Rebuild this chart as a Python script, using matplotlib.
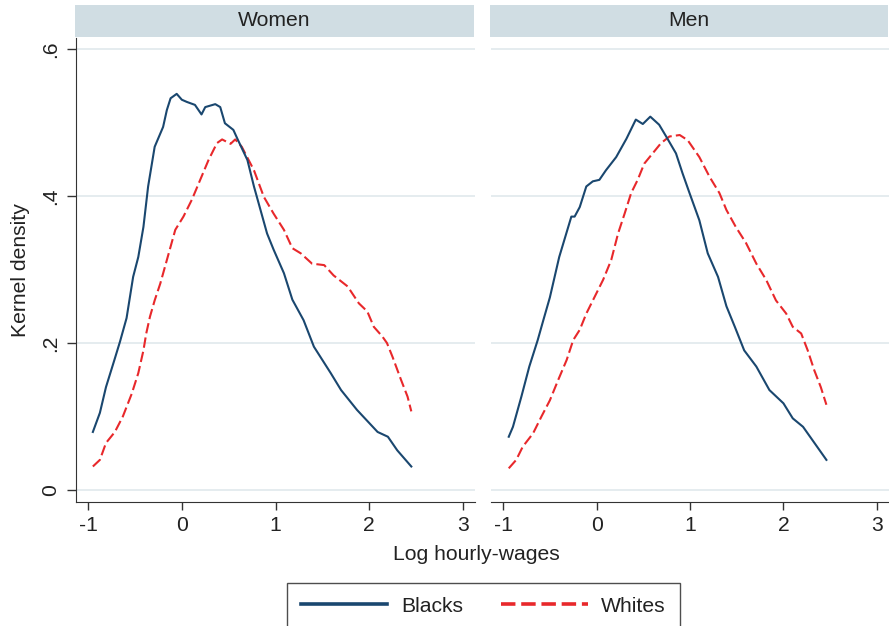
import matplotlib
matplotlib.use("Agg")
import matplotlib.pyplot as plt
from matplotlib.lines import Line2D

plt.rcParams["font.family"] = ["Liberation Sans", "DejaVu Sans"]

panels = ["Women", "Men"]
groups = ["Blacks", "Whites"]
yticks = [0, 0.2, 0.4, 0.6]
ytick_labels = ["0", ".2", ".4", ".6"]
xticks = [-1, 0, 1, 2, 3]

# Women, Blacks
wb_x = [-0.95, -0.875, -0.81, -0.72, -0.66, -0.59, -0.52, -0.465, -0.41, -0.36, -0.29, -0.2, -0.16,
        -0.12, -0.055, 0.0, 0.054, 0.14, 0.21, 0.25, 0.357, 0.41, 0.46, 0.55, 0.6, 0.70, 0.77, 0.84,
        0.91, 0.98, 1.09, 1.18, 1.30, 1.41, 1.59, 1.70, 1.87, 2.09, 2.20, 2.30, 2.45]
wb_y = [0.079, 0.105, 0.14, 0.177, 0.202, 0.234, 0.29, 0.317, 0.358, 0.413, 0.467, 0.494, 0.517,
        0.533, 0.539, 0.531, 0.528, 0.524, 0.511, 0.521, 0.525, 0.521, 0.499, 0.49, 0.476, 0.449,
        0.413, 0.381, 0.349, 0.327, 0.295, 0.259, 0.231, 0.195, 0.159, 0.136, 0.109, 0.079, 0.0725,
        0.054, 0.032]

# Women, Whites
ww_x = [-0.95, -0.875, -0.81, -0.715, -0.63, -0.535, -0.465, -0.41, -0.38, -0.34, -0.29, -0.23,
        -0.14, -0.07, 0.017, 0.107, 0.196, 0.285, 0.375, 0.43, 0.52, 0.57, 0.64, 0.77, 0.875, 0.98,
        1.09, 1.18, 1.27, 1.39, 1.52, 1.62, 1.77, 1.89, 1.98, 2.05, 2.14, 2.19, 2.25, 2.34, 2.41, 2.45]
ww_y = [0.032, 0.041, 0.064, 0.079, 0.10, 0.131, 0.159, 0.19, 0.213, 0.236, 0.258, 0.281, 0.322,
        0.354, 0.372, 0.395, 0.422, 0.449, 0.472, 0.477, 0.471, 0.477, 0.467, 0.435, 0.399, 0.376,
        0.354, 0.329, 0.322, 0.308, 0.306, 0.292, 0.277, 0.254, 0.243, 0.222, 0.209, 0.2, 0.181,
        0.15, 0.127, 0.107]

# Men, Blacks
mb_x = [-0.94, -0.895, -0.805, -0.72, -0.63, -0.57, -0.50, -0.40, -0.27, -0.235, -0.18, -0.11, -0.04,
        0.03, 0.10, 0.21, 0.32, 0.42, 0.495, 0.575, 0.67, 0.745, 0.85, 0.92, 0.995, 1.10, 1.19, 1.30,
        1.39, 1.48, 1.58, 1.71, 1.85, 2.0, 2.10, 2.21, 2.31, 2.46]
mb_y = [0.0725, 0.086, 0.127, 0.168, 0.204, 0.231, 0.262, 0.317, 0.372, 0.372, 0.385, 0.413, 0.42,
        0.422, 0.435, 0.453, 0.478, 0.504, 0.498, 0.508, 0.497, 0.481, 0.458, 0.431, 0.404, 0.367,
        0.322, 0.290, 0.250, 0.222, 0.19, 0.168, 0.136, 0.118, 0.0975, 0.086, 0.068, 0.041]

# Men, Whites
mw_x = [-0.94, -0.86, -0.79, -0.68, -0.59, -0.50, -0.41, -0.32, -0.25, -0.18, -0.11, -0.02, 0.07,
        0.157, 0.23, 0.30, 0.37, 0.44, 0.51, 0.60, 0.69, 0.78, 0.89, 0.975, 1.10, 1.21, 1.315, 1.39,
        1.49, 1.60, 1.71, 1.815, 1.92, 2.03, 2.10, 2.19, 2.26, 2.33, 2.40, 2.46]
mw_y = [0.0295, 0.041, 0.059, 0.077, 0.10, 0.122, 0.15, 0.177, 0.204, 0.218, 0.24, 0.263, 0.286,
        0.313, 0.349, 0.376, 0.404, 0.422, 0.444, 0.458, 0.472, 0.481, 0.483, 0.476, 0.453, 0.426,
        0.404, 0.381, 0.358, 0.336, 0.308, 0.286, 0.258, 0.24, 0.222, 0.213, 0.19, 0.163, 0.14, 0.116]

data = {
    "Women": [(wb_x, wb_y), (ww_x, ww_y)],
    "Men": [(mb_x, mb_y), (mw_x, mw_y)],
}

BLUE = "#1a476f"
RED = "#e8282b"
STRIP = "#d0dde3"
GRID = "#e3eaee"
TXT = "#222222"
FS = 15.2

fig = plt.figure(figsize=(8.89, 6.26), dpi=100)

W, H = 889, 626
# pixel boxes for the panels: (left, right)
panel_px = [(76, 475), (491, 889)]
top_px, bottom_px = 38, 502

for i, (name, (l, r)) in enumerate(zip(panels, panel_px)):
    ax = fig.add_axes([l / W, 1 - bottom_px / H, (r - l) / W, (bottom_px - top_px) / H])
    for ytk in yticks:
        ax.axhline(ytk, color=GRID, lw=1.3, zorder=0)
    (bx, by), (wx, wy) = data[name]
    ax.plot(bx, by, color=BLUE, lw=1.5, zorder=3)
    ax.plot(wx, wy, color=RED, lw=1.5, dashes=(5, 2), zorder=2)
    ax.set_xlim(-1.13, 3.13)
    ax.set_ylim(-0.0163, 0.615)
    ax.set_xticks(xticks)
    ax.set_xticklabels([str(t) for t in xticks], fontsize=FS, color=TXT)
    ax.tick_params(axis="x", length=6, width=1, color="#333333", pad=4)
    for s in ["top", "right"]:
        ax.spines[s].set_visible(False)
    ax.spines["bottom"].set_color("#333333")
    ax.spines["left"].set_color("#333333")
    if i == 0:
        ax.set_yticks(yticks)
        ax.set_yticklabels(ytick_labels, fontsize=FS, color=TXT, rotation=90, va="center")
        ax.tick_params(axis="y", length=6.5, width=1, color="#333333", pad=5)
        ax.set_ylabel("Kernel density", fontsize=FS, color=TXT, labelpad=8)
    else:
        ax.spines["left"].set_visible(False)
        ax.set_yticks([])

    # header strip
    sax = fig.add_axes([(l - 1) / W, 1 - 37 / H, (r - l) / W, 32 / H])
    sax.set_facecolor(STRIP)
    sax.set_xticks([])
    sax.set_yticks([])
    for s in sax.spines.values():
        s.set_visible(False)
    sax.text(0.5, 0.5, name, ha="center", va="center", fontsize=FS, color=TXT,
             transform=sax.transAxes)

fig.text(476.5 / W, 1 - 554 / H, "Log hourly-wages", ha="center", va="center",
         fontsize=FS, color=TXT)

# legend box runs off the bottom edge, like the original
handles = [
    Line2D([], [], color=BLUE, lw=2.6),
    Line2D([], [], color=RED, lw=2.6, dashes=(4, 1.6)),
]
leg = fig.legend(handles, groups, loc="upper left", bbox_to_anchor=(287 / W, 1 - 583 / H),
                 ncol=2, fontsize=FS, frameon=True, fancybox=False, handlelength=4.1,
                 handletextpad=0.65, columnspacing=1.8, borderpad=0.65, borderaxespad=0)
leg.get_frame().set_edgecolor("#222222")
leg.get_frame().set_linewidth(1.0)
for t in leg.get_texts():
    t.set_color(TXT)

fig.savefig("out.png", dpi=100)
